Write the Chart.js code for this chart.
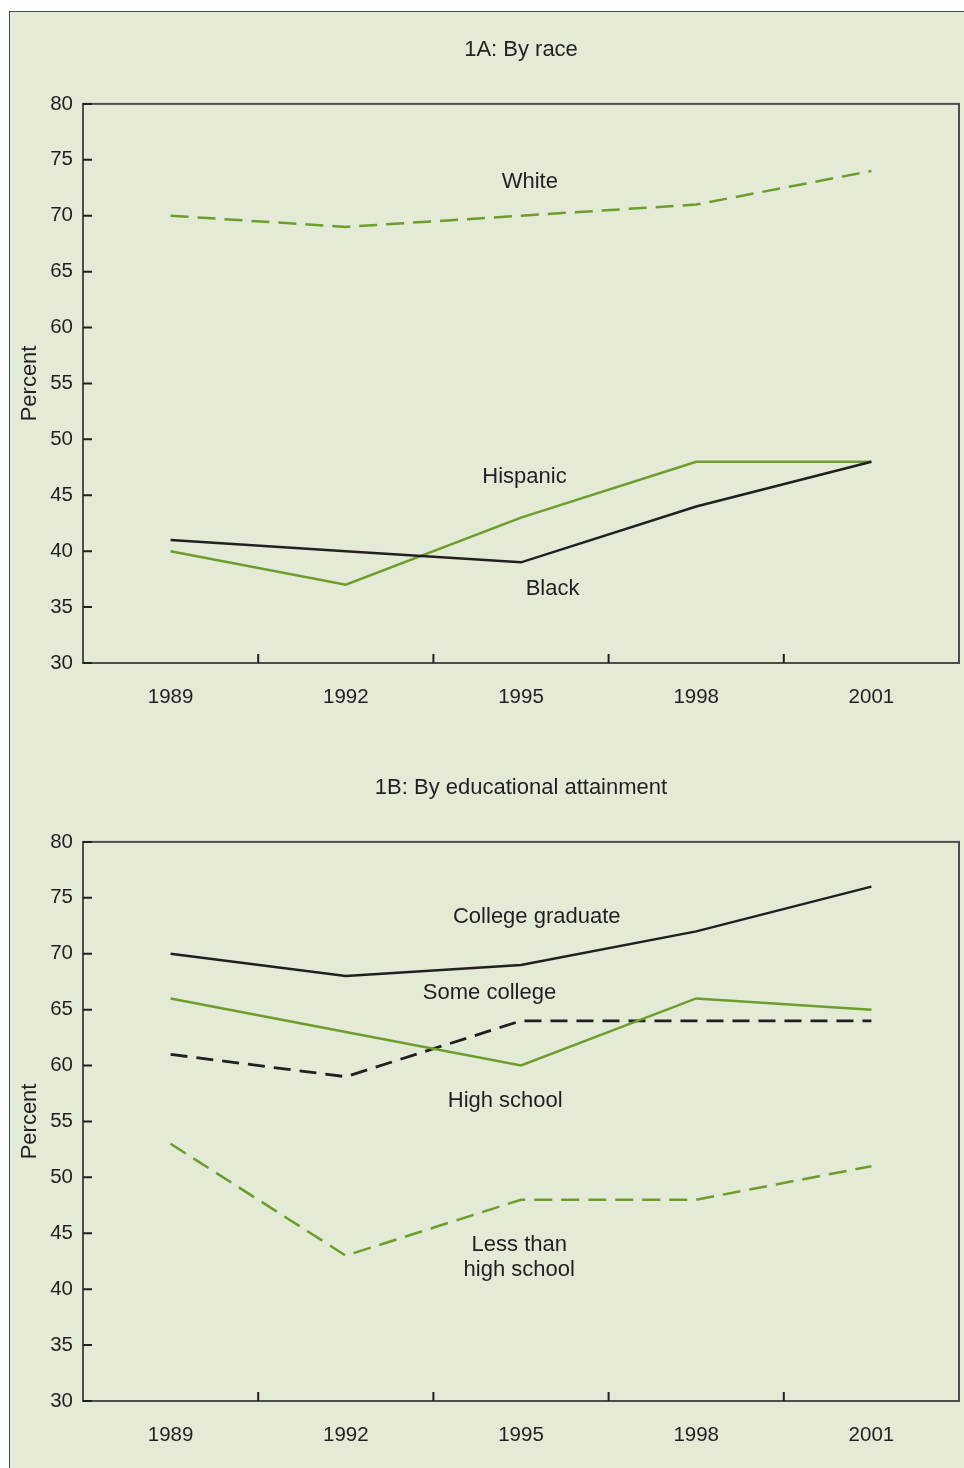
<!DOCTYPE html>
<html><head><meta charset="utf-8">
<script src="https://cdn.jsdelivr.net/npm/chart.js@4/dist/chart.umd.min.js"></script>
<style>
html,body{margin:0;padding:0;background:#fff;overflow:hidden;}
#frame{position:absolute;left:9px;top:11px;width:970px;height:1470px;background:#e3ead6;border-left:1px solid #4a4a4a;border-top:1px solid #4a4a4a;}
.box{position:absolute;left:10px;width:954px;height:728px;}
</style></head><body>
<div id="frame"></div>
<div class="box" style="top:12px"><canvas id="c1" width="954" height="728"></canvas></div>
<div class="box" style="top:740px"><canvas id="c2" width="954" height="728"></canvas></div>
<script>
// ---- data ----
const years = ['1989', '1992', '1995', '1998', '2001'];
const white = [70, 69, 70, 71, 74];
const black = [41, 40, 39, 44, 48];
const hispanic = [40, 37, 43, 48, 48];
const collegeGraduate = [70, 68, 69, 72, 76];
const someCollege = [66, 63, 60, 66, 65];
const highSchool = [61, 59, 64, 64, 64];
const lessThanHighSchool = [53, 43, 48, 48, 51];
const yMin = 30, yMax = 80, yStep = 5;
const titleA = '1A: By race';
const titleB = '1B: By educational attainment';
const yTitle = 'Percent';

// ---- styles ----
const GREEN = '#6d9d2c';
const BLACK = '#231f20';
const TEXT = '#231f20';
const FONT = "'Liberation Sans', Arial, sans-serif";
const LABEL_SIZE = 22;
Chart.defaults.font.family = FONT;
Chart.defaults.color = TEXT;

const framePlugin = {
  id: 'frameTicks',
  afterDatasetsDraw(chart) {
    const {ctx, chartArea: a, scales: {x, y}} = chart;
    ctx.save();
    ctx.strokeStyle = '#4d4d4d';
    ctx.lineWidth = 2;
    ctx.strokeRect(a.left, a.top, a.right - a.left, a.bottom - a.top);
    ctx.strokeStyle = BLACK;
    ctx.beginPath();
    y.ticks.forEach((t, i) => {
      const py = y.getPixelForTick(i);
      ctx.moveTo(a.left, py); ctx.lineTo(a.left + 9, py);
    });
    for (let i = 1; i < x.ticks.length; i++) {
      const px = (x.getPixelForTick(i - 1) + x.getPixelForTick(i)) / 2;
      ctx.moveTo(px, a.bottom); ctx.lineTo(px, a.bottom - 9);
    }
    ctx.stroke();
    ctx.restore();
  }
};

const labelPlugin = {
  id: 'seriesLabels',
  afterDatasetsDraw(chart, args, opts) {
    const {ctx, scales: {x, y}} = chart;
    ctx.save();
    ctx.font = LABEL_SIZE + 'px ' + FONT;
    ctx.fillStyle = TEXT;
    ctx.textAlign = 'center';
    ctx.textBaseline = 'middle';
    (opts.items || []).forEach(it => {
      const px = x.getPixelForValue(it.at);
      const py = y.getPixelForValue(it.value);
      it.lines.forEach((ln, k) => ctx.fillText(ln, px, py + k * 25));
    });
    ctx.restore();
  }
};

function makeChart(id, title, datasets, labels, titlePad, axisH) {
  return new Chart(document.getElementById(id), {
    type: 'line',
    data: { labels: years, datasets },
    plugins: [framePlugin, labelPlugin],
    options: {
      responsive: false,
      animation: false,
      devicePixelRatio: 1,
      layout: { padding: { left: 0, right: 5, top: 0, bottom: 0 } },
      elements: { point: { radius: 0 }, line: { tension: 0, borderWidth: 2.5, fill: false } },
      plugins: {
        legend: { display: false },
        tooltip: { enabled: false },
        title: {
          display: true, text: title, fullSize: false, color: TEXT,
          font: { size: LABEL_SIZE, weight: 'normal' }, padding: titlePad
        },
        seriesLabels: { items: labels }
      },
      scales: {
        x: {
          type: 'category', offset: true,
          grid: { display: false, drawTicks: false },
          border: { display: false },
          ticks: { font: { size: 20.5 }, padding: 22, color: TEXT, maxRotation: 0 },
          afterFit(s) { s.height = axisH; }
        },
        y: {
          min: yMin, max: yMax,
          grid: { display: false, drawTicks: false },
          border: { display: false },
          ticks: { stepSize: yStep, font: { size: 20.5 }, padding: 10, color: TEXT },
          title: { display: true, text: yTitle, font: { size: LABEL_SIZE }, padding: { top: 7, bottom: 0 }, color: TEXT },
          afterFit(s) { s.width = 73; }
        }
      }
    }
  });
}

makeChart('c1', titleA, [
  { data: white, borderColor: GREEN, borderDash: [18, 9] },
  { data: black, borderColor: BLACK },
  { data: hispanic, borderColor: GREEN }
], [
  { lines: ['White'], at: 2.05, value: 73.0 },
  { lines: ['Hispanic'], at: 2.02, value: 46.6 },
  { lines: ['Black'], at: 2.18, value: 36.6 }
], { top: 25, bottom: 40.5 }, 77);

makeChart('c2', titleB, [
  { data: collegeGraduate, borderColor: BLACK },
  { data: someCollege, borderColor: GREEN },
  { data: highSchool, borderColor: BLACK, borderDash: [17, 9], borderWidth: 2.8 },
  { data: lessThanHighSchool, borderColor: GREEN, borderDash: [18, 9] }
], [
  { lines: ['College graduate'], at: 2.09, value: 73.3 },
  { lines: ['Some college'], at: 1.82, value: 66.5 },
  { lines: ['High school'], at: 1.91, value: 56.8 },
  { lines: ['Less than', 'high school'], at: 1.99, value: 44.0 }
], { top: 35, bottom: 40.5 }, 67);
</script>
</body></html>
